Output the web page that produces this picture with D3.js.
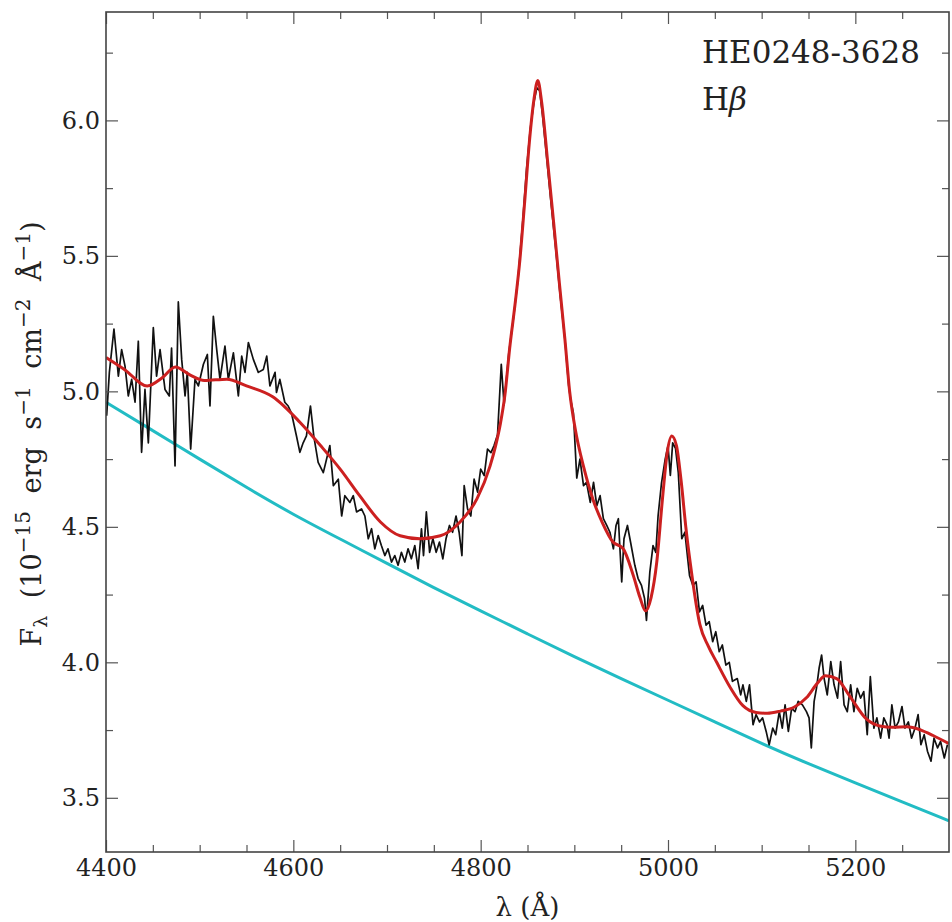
<!DOCTYPE html>
<html>
<head>
<meta charset="utf-8">
<script src="https://cdn.jsdelivr.net/npm/d3@7/dist/d3.min.js"></script>
<style>
  body { margin: 0; background: #fff; }
  svg text { font-family: "DejaVu Serif", serif; fill: #222; }
</style>
</head>
<body>
<div id="chart"></div>
<script>
// Observed spectrum [wavelength, flux]
var spectrum = [
  [4400.7,4.91],[4403.6,5.07],[4408.5,5.23],[4413.2,5.056],[4416.7,5.154],[4420.3,5.093],[4423.8,4.983],[4427.4,5.044],
  [4431,4.96],[4434.5,5.185],[4438,4.775],[4441.6,5.007],[4445.2,4.81],[4450.5,5.235],[4454,5.056],[4457.7,5.154],
  [4463,5.007],[4467.6,4.983],[4470,5.16],[4473.7,4.725],[4477.2,5.33],[4480.8,5.118],[4484.4,4.983],[4486.8,5.07],
  [4490.4,4.787],[4495,5.044],[4498.6,5.02],[4504,5.1],[4508.2,5.136],[4511,4.946],[4514.6,5.277],[4518.2,5.154],
  [4521.7,5.044],[4527,5.167],[4530.6,5.044],[4536,5.142],[4541.3,4.983],[4544.9,5.13],[4548.4,5.07],[4552,5.18],
  [4557.3,5.118],[4562.6,5.07],[4568,5.081],[4571.6,5.13],[4575,5.02],[4580.5,5.07],[4582,4.996],[4585.6,5.044],
  [4590.9,4.96],[4594.5,4.946],[4598,4.92],[4603.3,4.836],[4607,4.775],[4610.5,4.81],[4614,4.836],[4618.3,4.946],
  [4621.8,4.836],[4626.5,4.738],[4632,4.70],[4639,4.80],[4642.7,4.652],[4648,4.676],[4651.6,4.54],[4655,4.615],
  [4660.4,4.59],[4664,4.615],[4667.5,4.555],[4672.8,4.566],[4676.4,4.54],[4680,4.456],[4683.5,4.493],[4687,4.419],
  [4690.6,4.468],[4694,4.431],[4697.7,4.394],[4701,4.419],[4704.8,4.37],[4708.3,4.394],[4711.8,4.358],[4715.4,4.406],
  [4719,4.37],[4722.5,4.419],[4726,4.382],[4729.7,4.431],[4733.2,4.346],[4736.8,4.493],[4739,4.394],[4742,4.555],
  [4745.5,4.406],[4749,4.456],[4752.5,4.406],[4756,4.444],[4759.6,4.382],[4763,4.456],[4766.7,4.505],[4770,4.48],
  [4773.7,4.54],[4777,4.48],[4780,4.394],[4782.4,4.652],[4786,4.566],[4789.5,4.54],[4793,4.676],[4796.7,4.628],
  [4800,4.713],[4803.8,4.689],[4807.3,4.787],[4811,4.774],[4814.3,4.80],[4818,4.84],[4822,5.10],[4825,4.95],
  [4830,5.14],[4835,5.27],[4840,5.42],[4845,5.63],[4849,5.82],[4853,5.97],[4857,6.07],[4860,6.12],
  [4863,6.11],[4866,6.02],[4870,5.88],[4875,5.70],[4880,5.53],[4885,5.35],[4890,5.19],[4894,5.02],
  [4896,4.97],[4899,4.92],[4902.6,4.68],[4906,4.75],[4909.8,4.652],[4913,4.664],[4917,4.59],[4920.5,4.664],
  [4924,4.578],[4927.5,4.615],[4931,4.53],[4934.6,4.505],[4938,4.48],[4941.7,4.419],[4944.5,4.505],[4947,4.53],
  [4950.6,4.297],[4953,4.456],[4956.7,4.505],[4960,4.444],[4964.6,4.358],[4968,4.31],[4971.7,4.284],[4975,4.235],
  [4977,4.155],[4980.6,4.333],[4984,4.431],[4987,4.406],[4989.4,4.54],[4993,4.66],[4997,4.75],[5000,4.80],
  [5002.5,4.69],[5005,4.81],[5008,4.79],[5011,4.70],[5014.7,4.456],[5018,4.48],[5023,4.32],[5026.6,4.284],
  [5030,4.297],[5033.6,4.186],[5037,4.21],[5040.6,4.137],[5044,4.15],[5047.7,4.076],[5051,4.113],[5054.7,4.039],
  [5058,4.064],[5061.8,3.99],[5065.4,4.0],[5068.8,3.93],[5074,3.94],[5077.6,3.88],[5080,3.917],[5083.6,3.856],
  [5087,3.917],[5090.8,3.77],[5094,3.807],[5097.7,3.78],[5101,3.795],[5104.8,3.745],[5108,3.696],[5111.8,3.757],
  [5115,3.733],[5118.8,3.818],[5122,3.757],[5125,3.843],[5128.5,3.745],[5132,3.83],[5135.6,3.818],[5139,3.856],
  [5143.5,3.843],[5147.8,3.818],[5150.6,3.795],[5153,3.684],[5156,3.856],[5158.5,3.904],[5161.3,3.978],[5164,4.027],
  [5166.7,3.94],[5170,3.88],[5173.8,4.003],[5177.3,3.917],[5181,3.868],[5184.3,4.003],[5188,3.843],[5191.4,3.818],
  [5195,3.917],[5198.5,3.818],[5202,3.904],[5205.6,3.868],[5209,3.892],[5212.7,3.733],[5216,3.947],[5219.8,3.757],
  [5223,3.795],[5227,3.72],[5230.4,3.795],[5233.8,3.77],[5236,3.72],[5239,3.843],[5242.5,3.757],[5246,3.78],
  [5249.8,3.837],[5253,3.757],[5256.6,3.78],[5260,3.72],[5263.7,3.757],[5267,3.807],[5270,3.696],[5273.5,3.733],
  [5277,3.672],[5280.8,3.635],[5284,3.72],[5287.8,3.684],[5291,3.708],[5295,3.647],[5298.3,3.696]
];

// Model fit (red)
var fit = [
  [4400,5.125],[4420,5.08],[4444,5.02],[4460,5.05],[4474,5.09],[4490,5.06],[4505,5.04],[4529,5.045],
  [4550,5.02],[4578,4.98],[4607,4.886],[4629,4.80],[4650,4.713],[4671,4.614],[4693,4.518],[4714,4.467],
  [4735,4.456],[4757,4.467],[4778,4.518],[4796,4.603],[4810,4.724],[4816,4.80],[4821,4.88],[4826,4.99],
  [4831,5.16],[4837,5.33],[4842,5.49],[4847,5.70],[4852,5.92],[4857,6.08],[4861,6.147],[4865,6.07],
  [4872,5.83],[4878,5.62],[4884,5.40],[4890,5.19],[4895,5.00],[4901,4.86],[4910,4.72],[4920,4.60],
  [4930,4.515],[4941,4.445],[4952,4.42],[4963,4.32],[4970,4.24],[4976,4.19],[4982,4.24],[4988,4.37],
  [4994,4.60],[4999,4.77],[5004,4.835],[5009,4.80],[5014,4.67],[5019,4.50],[5024,4.36],[5034,4.14],
  [5043,4.06],[5052,4.00],[5066,3.91],[5080,3.84],[5094,3.815],[5106,3.812],[5120,3.82],[5135,3.835],
  [5148,3.87],[5160,3.925],[5168,3.95],[5180,3.94],[5194,3.875],[5212,3.79],[5226,3.765],[5240,3.76],
  [5255,3.762],[5270,3.75],[5283,3.73],[5300,3.70]
];

// Continuum (cyan)
var continuum = [
  [4400,4.96],[4450,4.855],[4500,4.75],[4550,4.645],[4600,4.545],[4650,4.455],[4700,4.365],[4750,4.275],
  [4800,4.19],[4850,4.105],[4900,4.02],[4950,3.94],[5000,3.86],[5050,3.78],[5100,3.70],[5150,3.625],
  [5200,3.555],[5250,3.485],[5300,3.415]
];

var xMajor = [4400, 4600, 4800, 5000, 5200];
var yMajor = [3.5, 4.0, 4.5, 5.0, 5.5, 6.0];

var margin = {top: 12, right: 3, bottom: 70, left: 106};
var width = 952 - margin.left - margin.right,
    height = 922 - margin.top - margin.bottom;

var svg = d3.select("#chart").append("svg")
    .attr("width", 952)
    .attr("height", 922);

var g = svg.append("g")
    .attr("transform", "translate(" + margin.left + "," + margin.top + ")");

var x = d3.scaleLinear().domain([4400, 5300]).range([0, width]);
var y = d3.scaleLinear().domain([3.3, 6.4]).range([height, 0]);

g.append("defs").append("clipPath").attr("id", "clip")
    .append("rect").attr("width", width).attr("height", height);

var line = d3.line()
    .x(function(d) { return x(d[0]); })
    .y(function(d) { return y(d[1]); });

var plot = g.append("g").attr("clip-path", "url(#clip)");

plot.append("path")
    .datum(continuum)
    .attr("fill", "none")
    .attr("stroke", "#22bcc4")
    .attr("stroke-width", 3)
    .attr("d", line.curve(d3.curveBasis));

plot.append("path")
    .datum(spectrum)
    .attr("fill", "none")
    .attr("stroke", "#111")
    .attr("stroke-width", 1.7)
    .attr("stroke-linejoin", "round")
    .attr("d", line.curve(d3.curveLinear));

plot.append("path")
    .datum(fit)
    .attr("fill", "none")
    .attr("stroke", "#cc2020")
    .attr("stroke-width", 3)
    .attr("d", line.curve(d3.curveMonotoneX));

// Axes with inward ticks on all four sides
var xMinor = d3.range(4450, 5300, 50).filter(function(v) { return xMajor.indexOf(v) < 0; });
var yMinor = d3.range(3.25, 6.4, 0.5).filter(function(v) { return v > 3.3; });

function styleAxis(sel) {
    sel.select(".domain").remove();
    sel.selectAll(".tick line").attr("stroke", "#555").attr("stroke-width", 1.2);
    sel.selectAll("text").style("font-size", "24px").attr("fill", "#222");
}

g.append("g").attr("transform", "translate(0," + height + ")")
    .call(d3.axisBottom(x).tickValues(xMajor).tickFormat(d3.format("d")).tickSizeInner(-12).tickSizeOuter(0).tickPadding(7))
    .call(styleAxis);
g.append("g").attr("transform", "translate(0," + height + ")")
    .call(d3.axisBottom(x).tickValues(xMinor).tickFormat("").tickSizeInner(-7).tickSizeOuter(0))
    .call(styleAxis);
g.append("g")
    .call(d3.axisTop(x).tickValues(xMajor).tickFormat("").tickSizeInner(-12).tickSizeOuter(0))
    .call(styleAxis);
g.append("g")
    .call(d3.axisTop(x).tickValues(xMinor).tickFormat("").tickSizeInner(-7).tickSizeOuter(0))
    .call(styleAxis);

g.append("g")
    .call(d3.axisLeft(y).tickValues(yMajor).tickFormat(d3.format(".1f")).tickSizeInner(-12).tickSizeOuter(0).tickPadding(6))
    .call(styleAxis);
g.append("g")
    .call(d3.axisLeft(y).tickValues(yMinor).tickFormat("").tickSizeInner(-7).tickSizeOuter(0))
    .call(styleAxis);
g.append("g").attr("transform", "translate(" + width + ",0)")
    .call(d3.axisRight(y).tickValues(yMajor).tickFormat("").tickSizeInner(-12).tickSizeOuter(0))
    .call(styleAxis);
g.append("g").attr("transform", "translate(" + width + ",0)")
    .call(d3.axisRight(y).tickValues(yMinor).tickFormat("").tickSizeInner(-7).tickSizeOuter(0))
    .call(styleAxis);

g.append("rect")
    .attr("width", width)
    .attr("height", height)
    .attr("fill", "none")
    .attr("stroke", "#444")
    .attr("stroke-width", 1.6);

// Labels
g.append("text")
    .attr("x", x(4850))
    .attr("y", height + 64)
    .attr("text-anchor", "middle")
    .style("font-size", "26px")
    .text("λ (Å)");

var ylab = svg.append("text")
    .attr("transform", "translate(41,434) rotate(-90)")
    .attr("text-anchor", "middle")
    .style("font-size", "27px")
    .style("word-spacing", "9px");
ylab.append("tspan").text("F");
ylab.append("tspan").attr("dy", 6).style("font-size", "19px").text("λ");
ylab.append("tspan").attr("dy", -6).text(" (10");
ylab.append("tspan").attr("dy", -11).style("font-size", "20px").text("−15");
ylab.append("tspan").attr("dy", 11).text("  erg  s");
ylab.append("tspan").attr("dy", -11).style("font-size", "20px").text("−1");
ylab.append("tspan").attr("dy", 11).text("  cm");
ylab.append("tspan").attr("dy", -11).style("font-size", "20px").text("−2");
ylab.append("tspan").attr("dy", 11).text("  Å");
ylab.append("tspan").attr("dy", -11).style("font-size", "20px").text("−1");
ylab.append("tspan").attr("dy", 11).text(")");

// Legend-style text
svg.append("text")
    .attr("x", 702).attr("y", 63)
    .style("font-size", "31px")
    .text("HE0248-3628");
var hb = svg.append("text")
    .attr("x", 702).attr("y", 110)
    .style("font-size", "31px");
hb.append("tspan").text("H");
hb.append("tspan").style("font-style", "italic").text("β");
</script>
</body>
</html>
